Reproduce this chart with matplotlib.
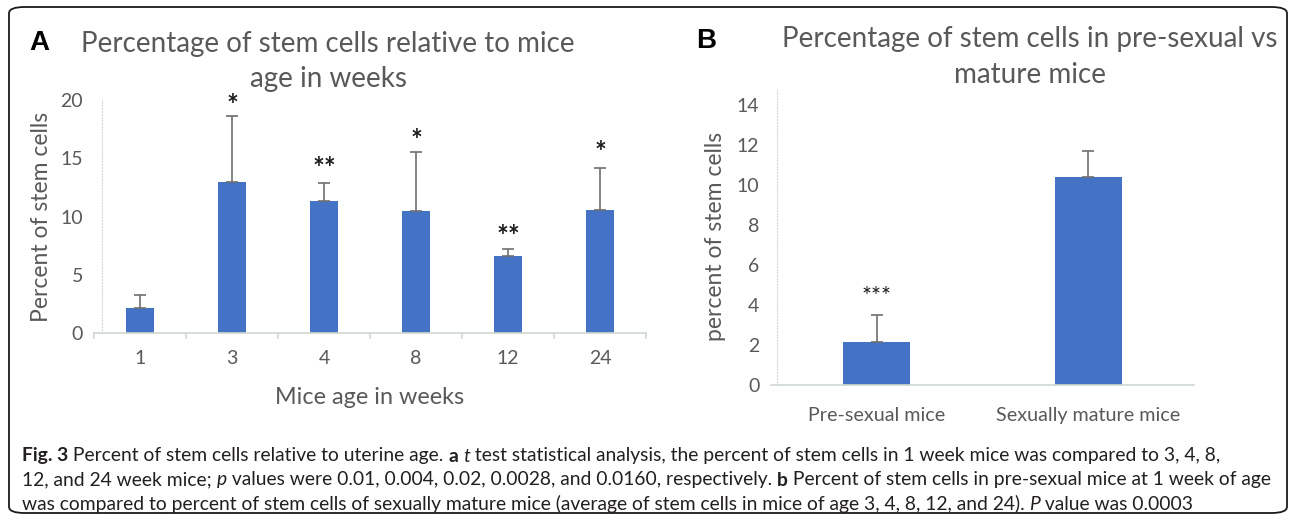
import matplotlib
matplotlib.use('Agg')
import matplotlib.pyplot as plt
from matplotlib.patches import FancyBboxPatch

plt.rcParams['font.family'] = ['Lato', 'DejaVu Sans']

# panel A data
ages = ['1', '3', '4', '8', '12', '24']
pct_a = [2.17, 12.96, 11.3, 10.45, 6.6, 10.53]
err_a = [1.1, 5.65, 1.55, 5.05, 0.65, 3.6]
stars_a = ['', '*', '**', '*', '**', '*']
star_y_a = [0, 20.2, 14.85, 17.25, 9.0, 16.2]

# panel B data
groups = ['Pre-sexual mice', 'Sexually mature mice']
pct_b = [2.13, 10.42]
err_b = [1.35, 1.28]
stars_b = ['***', '']
star_y_b = [4.75, 0]

W, H = 1295, 521
fig = plt.figure(figsize=(W / 100, H / 100), dpi=100)

def px_axes(l, t, r, b):
    return fig.add_axes([l / W, 1 - b / H, (r - l) / W, (b - t) / H])

# rounded frame
fig.patches.append(FancyBboxPatch((9 / W, 8 / H), 1278 / W, 506 / H,
                                  boxstyle='round,pad=0,rounding_size=0.012',
                                  transform=fig.transFigure, fill=False,
                                  ec='#1a1a1a', lw=1.3))

gray = '#595959'
blue = '#4472C4'


def style_axes(ax):
    for s in ['top', 'right']:
        ax.spines[s].set_visible(False)
    ax.spines['bottom'].set_color('#d0d8d0')
    ax.spines['bottom'].set_linewidth(1.2)
    ax.spines['left'].set_color('#d8d8d8')
    ax.spines['left'].set_linestyle(':')
    ax.spines['left'].set_linewidth(0.8)
    ax.spines['left'].set_position(('axes', 0.015))
    ax.tick_params(axis='y', length=0, colors=gray, labelsize=14, pad=14)
    ax.tick_params(axis='x', length=0, colors=gray, labelsize=14, pad=12)


# ---- panel A ----
axA = px_axes(94, 100, 646, 333)
x = range(len(ages))
axA.bar(x, pct_a, width=0.31, color=blue, zorder=2)
axA.errorbar(x, pct_a, yerr=[[0] * len(ages), err_a], fmt='none',
             ecolor='#6f6f6f', elinewidth=1.2, capsize=4, capthick=1.2, zorder=3)
for i, s in enumerate(stars_a):
    if s:
        axA.text(i, star_y_a[i] - 0.75, s, ha='center', va='center', fontsize=20,
                 fontweight='bold', color='#1a1a1a', clip_on=False)
axA.set_xlim(-0.5, len(ages) - 0.5)
axA.set_ylim(0, 20)
axA.set_yticks([0, 5, 10, 15, 20])
axA.set_xticks(list(x))
axA.set_xticklabels(ages)
style_axes(axA)
for b in [i - 0.5 for i in range(len(ages) + 1)]:
    axA.plot([b, b], [0, -0.45], color='#d0d8d0', lw=1.2, clip_on=False)
axA.set_ylabel('Percent of stem cells', fontsize=16.5, color=gray, labelpad=6)
axA.set_xlabel('Mice age in weeks', fontsize=16.8, color=gray, labelpad=15)
fig.text(328 / W, 1 - 61.5 / H, 'Percentage of stem cells relative to mice\nage in weeks',
         ha='center', va='center', fontsize=20, color=gray, linespacing=1.45)
fig.text(29 / W, 1 - 43 / H, 'A', fontsize=20, fontweight='bold',
         family='Liberation Sans', va='center', ha='left', color='black')

# ---- panel B ----
axB = px_axes(771, 88, 1194, 385)
xb = range(len(groups))
axB.bar(xb, pct_b, width=0.316, color=blue, zorder=2)
axB.errorbar(xb, pct_b, yerr=[[0] * len(groups), err_b], fmt='none',
             ecolor='#6f6f6f', elinewidth=1.2, capsize=4, capthick=1.2, zorder=3)
for i, s in enumerate(stars_b):
    if s:
        axB.text(i, star_y_b[i] - 0.3, s, ha='center', va='center', fontsize=17,
                 color='#1a1a1a', clip_on=False)
axB.set_xlim(-0.5, len(groups) - 0.5)
axB.set_ylim(0, 14.85)
axB.set_yticks(range(0, 15, 2))
axB.set_xticks(list(xb))
axB.set_xticklabels(groups)
style_axes(axB)
axB.tick_params(axis='y', pad=13)
axB.tick_params(axis='x', labelsize=14.2, pad=16)
axB.set_ylabel('percent of stem cells', fontsize=16.5, color=gray, labelpad=8)
fig.text(1030 / W, 1 - 57 / H, 'Percentage of stem cells in pre-sexual vs\nmature mice',
         ha='center', va='center', fontsize=20, color=gray, linespacing=1.45)
fig.text(696 / W, 1 - 41 / H, 'B', fontsize=20, fontweight='bold',
         family='Liberation Sans', va='center', ha='left', color='black')

# ---- caption ----
cap = '#231f20'
lines = [
    [('Fig. 3', 'b'), (' Percent of stem cells relative to uterine age. ', 'n'), ('a', 'b'),
     (' ', 'n'), ('t', 'i'),
     (' test statistical analysis, the percent of stem cells in 1 week mice was compared to 3, 4, 8,', 'n')],
    [('12, and 24 week mice; ', 'n'), ('p', 'i'),
     (' values were 0.01, 0.004, 0.02, 0.0028, and 0.0160, respectively. ', 'n'), ('b', 'b'),
     (' Percent of stem cells in pre-sexual mice at 1 week of age', 'n')],
    [('was compared to percent of stem cells of sexually mature mice (average of stem cells in mice of age 3, 4, 8, 12, and 24). ', 'n'),
     ('P', 'i'), (' value was 0.0003', 'n')],
]
line_y = [456, 480, 504]


def kw(st):
    d = dict(fontsize=13.9, color=cap, family=['Lato', 'DejaVu Sans'])
    if st == 'b':
        d['fontweight'] = 'bold'
    if st == 'i':
        d['fontstyle'] = 'italic'
    return d


for pieces, yy in zip(lines, line_y):
    t = fig.text(22 / W, 1 - yy / H, pieces[0][0], va='center', ha='left', **kw(pieces[0][1]))
    for s, st in pieces[1:]:
        t = plt.annotate(s, xy=(1, 0), xycoords=t, va='bottom', ha='left', **kw(st))

fig.savefig('out.png', dpi=100)
